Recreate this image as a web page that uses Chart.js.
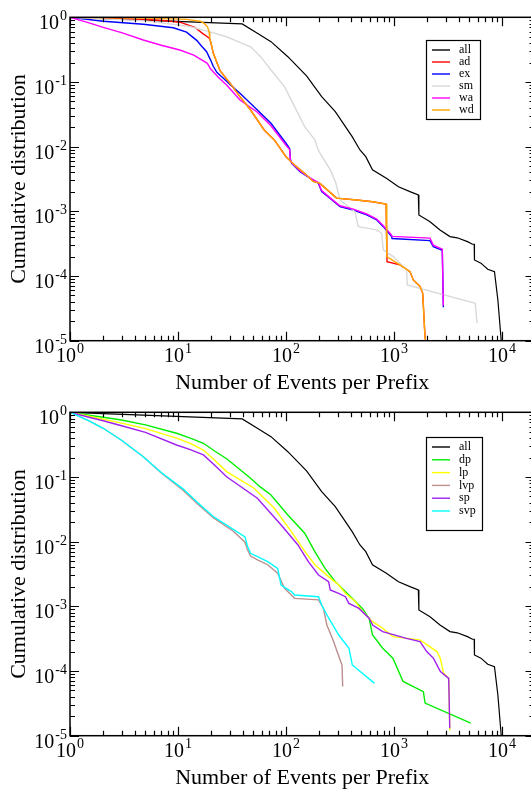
<!DOCTYPE html>
<html>
<head>
<meta charset="utf-8">
<script src="https://cdn.jsdelivr.net/npm/chart.js@4/dist/chart.umd.min.js"></script>
<style>
  body { margin: 0; width: 531px; height: 792px; overflow: hidden; background: #fff; }
  .plot { position: absolute; left: 0; }
  canvas { display: block; }
</style>
</head>
<body>
<div class="plot" style="top:0"><canvas id="top" width="540" height="395"></canvas></div>
<div class="plot" style="top:395px"><canvas id="bottom" width="540" height="397"></canvas></div>
<script>
// axis ranges and tick exponents
let xMin = 1, xMax = 20000;
let yMin = 1e-5, yMax = 1;
let xDecades = ['0', '1', '2', '3', '4'];
let yDecades = ['0', '-1', '-2', '-3', '-4', '-5'];
let xTitle = 'Number of Events per Prefix';
let yTitle = 'Cumulative distribution';

// "all" is the same curve in both panels
let allX = [1, 39.3, 54.3, 72.6, 104, 155, 214, 286, 410, 484, 548, 632, 850, 1100, 1406, 1680, 1700, 2155, 2667, 3300, 3855, 4790, 5330, 5530, 5560, 6380, 7380, 8520, 9160, 9840];
let allY = [1, 0.789, 0.566, 0.42, 0.246, 0.124, 0.0593, 0.0348, 0.0143, 0.0089, 0.007, 0.0044, 0.00324, 0.0024, 0.00202, 0.0018, 0.00088, 0.00069, 0.000516, 0.000407, 0.00039, 0.00034, 0.00031, 0.00031, 0.000177, 0.000158, 0.000127, 0.000117, 4.26e-5, 1e-5];

// top panel
let adX = [1, 3, 6.81, 10.4, 14.3, 17, 18.7, 19.6, 20.2, 21.2, 22.9, 24.5, 30.3, 37.5, 47, 62.8, 78, 100, 120, 150, 179, 206, 294, 452, 633, 845, 856, 862, 1136, 1406, 1510, 1742, 1845, 1936, 1960];
let adY = [1, 0.95, 0.9, 0.84, 0.7, 0.56, 0.5, 0.47, 0.4, 0.28, 0.2, 0.15, 0.0955, 0.0593, 0.0369, 0.0181, 0.0127, 0.007, 0.0052, 0.0038, 0.0029, 0.0027, 0.0016, 0.0015, 0.00141, 0.0013, 0.0013, 0.000167, 0.000149, 0.000117, 8.7e-5, 6.9e-5, 5.4e-5, 1.16e-5, 1e-5];
let exX = [1, 2.03, 4.77, 9.04, 12, 14.9, 16.5, 18.4, 20, 21.2, 23, 26.3, 31, 37.5, 54.3, 72.6, 100, 108, 110, 113, 135, 167, 199, 214, 255, 316, 420, 559, 692, 796, 951, 960, 2155, 2312, 2667, 2800, 2865];
let exY = [1, 0.87, 0.78, 0.69, 0.59, 0.44, 0.36, 0.294, 0.22, 0.175, 0.14, 0.114, 0.088, 0.0669, 0.0369, 0.023, 0.0113, 0.0094, 0.0062, 0.00554, 0.00411, 0.00325, 0.00272, 0.00202, 0.00159, 0.00118, 0.00105, 0.00088, 0.000736, 0.00058, 0.000407, 0.00038, 0.000352, 0.000284, 0.000259, 0.00025, 3.3e-5];
let smX = [1, 5, 12.8, 19.4, 28.2, 36, 47, 58.2, 72.6, 96.8, 120, 149, 185, 199, 207, 257, 274, 290, 316, 435, 467, 692, 769, 796, 986, 1310, 1327, 5660, 5870];
let smY = [1, 0.88, 0.72, 0.6, 0.5, 0.42, 0.35, 0.246, 0.153, 0.0846, 0.0415, 0.0204, 0.0127, 0.0089, 0.0079, 0.00437, 0.00344, 0.00272, 0.0015, 0.00099, 0.00058, 0.000516, 0.000458, 0.000253, 0.0002, 0.000124, 7.3e-5, 3.8e-5, 1.86e-5];
let waX = [1, 1.5, 2.03, 3, 4.77, 7, 10.4, 14, 18.7, 20, 21.2, 24, 28.2, 37.5, 54.3, 72.6, 100, 108, 110, 113, 135, 167, 199, 214, 255, 316, 420, 559, 692, 796, 951, 960, 2155, 2312, 2667, 2800, 2865];
let waY = [1, 0.82, 0.7, 0.58, 0.446, 0.37, 0.312, 0.26, 0.194, 0.16, 0.144, 0.115, 0.0899, 0.0527, 0.034, 0.021, 0.0105, 0.009, 0.0062, 0.0056, 0.0042, 0.0033, 0.0028, 0.0021, 0.00163, 0.00122, 0.00108, 0.00091, 0.00076, 0.0006, 0.00043, 0.00041, 0.000385, 0.0003, 0.00027, 0.00026, 3.5e-5];
let wdX = [1, 5, 12, 16, 17.2, 18.7, 19.4, 19.7, 20.2, 21.2, 22.9, 24.5, 30.3, 37.5, 47, 62.8, 78, 100, 120, 150, 179, 206, 294, 452, 633, 845, 856, 860, 1136, 1406, 1510, 1742, 1845, 1936, 1960];
let wdY = [1, 0.97, 0.93, 0.87, 0.82, 0.72, 0.6, 0.47, 0.4, 0.28, 0.2, 0.15, 0.0955, 0.0593, 0.0369, 0.0181, 0.0127, 0.007, 0.0052, 0.0038, 0.0029, 0.0027, 0.0016, 0.0015, 0.00141, 0.0013, 0.0013, 0.0002, 0.000149, 0.000117, 8.7e-5, 6.9e-5, 5.4e-5, 1.16e-5, 1e-5];

// bottom panel
let dpX = [1, 1.5, 2.03, 3, 5, 9.7, 13, 17.2, 22, 28.4, 47, 57.4, 72.6, 104, 149, 185, 230, 286, 410, 510, 589, 633, 786, 977, 1213, 1871, 1940, 5140];
let dpY = [1, 0.9, 0.84, 0.76, 0.64, 0.474, 0.4, 0.332, 0.25, 0.19, 0.0955, 0.0708, 0.0527, 0.0259, 0.0135, 0.007, 0.00387, 0.00241, 0.00133, 0.00093, 0.00065, 0.00036, 0.000225, 0.000158, 6.9e-5, 4.8e-5, 3.2e-5, 1.56e-5];
let lpX = [1, 1.5, 2.03, 3, 5, 9.7, 13, 17.2, 22, 28.2, 50.6, 78, 112, 150, 186, 248, 307, 355, 441, 511, 634, 787, 977, 1738, 2495, 2684, 2884, 3217, 3285];
let lpY = [1, 0.87, 0.78, 0.68, 0.56, 0.4, 0.33, 0.261, 0.18, 0.121, 0.067, 0.0328, 0.0143, 0.007, 0.00437, 0.00288, 0.00214, 0.00159, 0.00118, 0.00083, 0.00058, 0.000458, 0.00034, 0.000303, 0.0002, 0.000157, 9.2e-5, 7.7e-5, 1.2e-5];
let lvpX = [1, 1.5, 2.03, 3, 4.77, 7, 11.2, 15, 21.2, 32.5, 41.7, 44, 47, 55, 67.6, 83.7, 96.8, 112, 120, 200, 222, 239, 276, 297, 330, 335];
let lvpY = [1, 0.74, 0.566, 0.37, 0.206, 0.115, 0.062, 0.039, 0.0235, 0.0145, 0.0098, 0.0075, 0.006, 0.0052, 0.0044, 0.00325, 0.0019, 0.0015, 0.00133, 0.00126, 0.00093, 0.000515, 0.000285, 0.0002, 0.000124, 5.75e-5];
let spX = [1, 1.5, 2.03, 3, 5, 9.7, 13, 17.2, 22, 28.2, 54.3, 90.2, 129, 161, 200, 248, 257, 307, 355, 382, 474, 590, 634, 787, 1303, 1742, 2009, 2322, 2690, 3210, 3285];
let spY = [1, 0.84, 0.74, 0.62, 0.49, 0.312, 0.265, 0.219, 0.15, 0.101, 0.0469, 0.0181, 0.0089, 0.00491, 0.00305, 0.00241, 0.00179, 0.00159, 0.00141, 0.00111, 0.00093, 0.00065, 0.000515, 0.000407, 0.00032, 0.000285, 0.0002, 0.000157, 9.8e-5, 7.7e-5, 1.3e-5];
let svpX = [1, 1.5, 2.03, 3, 4.77, 7, 11.2, 15, 21.2, 32.5, 41.7, 44, 47, 55, 67.6, 83.7, 90, 112, 120, 200, 214, 239, 308, 383, 411, 657];
let svpY = [1, 0.74, 0.566, 0.37, 0.206, 0.117, 0.065, 0.041, 0.0245, 0.0155, 0.0118, 0.0085, 0.0066, 0.0058, 0.0049, 0.00387, 0.00214, 0.00169, 0.0015, 0.00141, 0.00105, 0.00074, 0.00036, 0.000225, 0.000124, 6.5e-5];

let serif = '"Liberation Serif", "Times New Roman", serif';

function pts(xs, ys) {
  return xs.map((v, i) => ({ x: v, y: ys[i] }));
}

function series(label, xs, ys, color, width) {
  return {
    label: label,
    data: pts(xs, ys),
    borderColor: color,
    backgroundColor: color,
    borderWidth: width || 1.4,
    pointRadius: 0,
    tension: 0,
    showLine: true,
    fill: false
  };
}

// power-of-ten label: big "10" with a raised exponent
function powLabel(ctx, exp, x, y, align) {
  ctx.font = '20px ' + serif;
  let wb = ctx.measureText('10').width;
  ctx.font = '14px ' + serif;
  let we = ctx.measureText(exp).width;
  let left = align === 'center' ? x - (wb + we + 1) / 2 : x - (wb + we + 1);
  ctx.font = '20px ' + serif;
  ctx.fillText('10', left, y);
  ctx.font = '14px ' + serif;
  ctx.fillText(exp, left + wb + 1, y - 9);
}

// frame, inward ticks, tick labels and axis titles
let framePlugin = {
  id: 'frame',
  afterDraw(chart) {
    let ctx = chart.ctx;
    let a = chart.chartArea;
    let xs = chart.scales.x, ys = chart.scales.y;
    ctx.save();
    ctx.strokeStyle = '#000';
    ctx.fillStyle = '#000';
    ctx.lineWidth = 1.5;
    ctx.strokeRect(a.left, a.top, a.right - a.left, a.bottom - a.top);

    ctx.lineWidth = 1.2;
    ctx.beginPath();
    for (let d = 0; d < 5; d++) {
      for (let k = 1; k <= 9; k++) {
        let v = k * Math.pow(10, d);
        if (v > xMax) break;
        let px = Math.round(xs.getPixelForValue(v)) + 0.5;
        let len = k === 1 ? 9 : 5;
        ctx.moveTo(px, a.bottom); ctx.lineTo(px, a.bottom - len);
        ctx.moveTo(px, a.top); ctx.lineTo(px, a.top + len);
      }
    }
    for (let d = -5; d <= 0; d++) {
      for (let k = 1; k <= 9; k++) {
        let v = k * Math.pow(10, d);
        if (v > yMax) break;
        let py = Math.round(ys.getPixelForValue(v)) + 0.5;
        let len = k === 1 ? 9 : 5;
        ctx.moveTo(a.left, py); ctx.lineTo(a.left + len, py);
        ctx.moveTo(a.right, py); ctx.lineTo(a.right - len, py);
      }
    }
    ctx.stroke();

    ctx.textAlign = 'left';
    ctx.textBaseline = 'alphabetic';
    xDecades.forEach(e => {
      powLabel(ctx, e, xs.getPixelForValue(Math.pow(10, +e)), a.bottom + 21, 'center');
    });
    yDecades.forEach(e => {
      powLabel(ctx, e, 67, ys.getPixelForValue(Math.pow(10, +e)) + 12, 'right');
    });

    ctx.font = '22px ' + serif;
    ctx.textAlign = 'center';
    ctx.fillText(xTitle, (a.left + a.right) / 2, a.bottom + 48);
    ctx.translate(25, (a.top + a.bottom) / 2);
    ctx.rotate(-Math.PI / 2);
    ctx.fillText(yTitle, 0, 0);
    ctx.restore();
  }
};

// boxed legend inside the plot
let boxLegend = {
  id: 'boxLegend',
  afterDatasetsDraw(chart, args, opts) {
    let ctx = chart.ctx;
    ctx.save();
    ctx.fillStyle = '#fff';
    ctx.fillRect(opts.x, opts.y, opts.w, opts.h);
    ctx.strokeStyle = '#000';
    ctx.lineWidth = 1.2;
    ctx.strokeRect(opts.x + 0.5, opts.y + 0.5, opts.w, opts.h);
    ctx.font = '12px ' + serif;
    ctx.textAlign = 'left';
    ctx.textBaseline = 'middle';
    chart.data.datasets.forEach((ds, i) => {
      let ry = opts.first + i * opts.gap;
      ctx.strokeStyle = ds.borderColor;
      ctx.lineWidth = 1.4;
      ctx.beginPath();
      ctx.moveTo(opts.x + 6, ry);
      ctx.lineTo(opts.x + 24, ry);
      ctx.stroke();
      ctx.fillStyle = '#000';
      ctx.fillText(ds.label, opts.x + 33, ry);
    });
    ctx.restore();
  }
};

function makeChart(id, datasets, legendPos) {
  // later entries are drawn on top, like the original plotting tool
  datasets.forEach((ds, i) => { ds.order = datasets.length - i; });
  let ctx = document.getElementById(id).getContext('2d');
  return new Chart(ctx, {
    type: 'scatter',
    data: { datasets: datasets },
    options: {
      responsive: false,
      animation: false,
      devicePixelRatio: 1,
      events: [],
      layout: { padding: { left: 70, top: 17.3, right: 5.5, bottom: ctx.canvas.height - 340.7 } },
      scales: {
        x: { type: 'logarithmic', min: xMin, max: xMax, display: false },
        y: { type: 'logarithmic', min: yMin, max: yMax, display: false }
      },
      plugins: {
        legend: { display: false },
        tooltip: { enabled: false },
        boxLegend: legendPos
      }
    },
    plugins: [boxLegend, framePlugin]
  });
}

makeChart('top', [
  series('all', allX, allY, '#000000', 1.2),
  series('ad', adX, adY, '#ff0000'),
  series('ex', exX, exY, '#0000ff'),
  series('sm', smX, smY, '#d9d9d9'),
  series('wa', waX, waY, '#ff00ff'),
  series('wd', wdX, wdY, '#ffa500')
], { x: 426, y: 40, w: 54, h: 79, first: 50, gap: 12 });

makeChart('bottom', [
  series('all', allX, allY, '#000000', 1.2),
  series('dp', dpX, dpY, '#00ee00'),
  series('lp', lpX, lpY, '#ffff00'),
  series('lvp', lvpX, lvpY, '#bc8f8f'),
  series('sp', spX, spY, '#a020f0'),
  series('svp', svpX, svpY, '#00ffff')
], { x: 426, y: 42, w: 56, h: 93, first: 52, gap: 12.8 });
</script>
</body>
</html>
